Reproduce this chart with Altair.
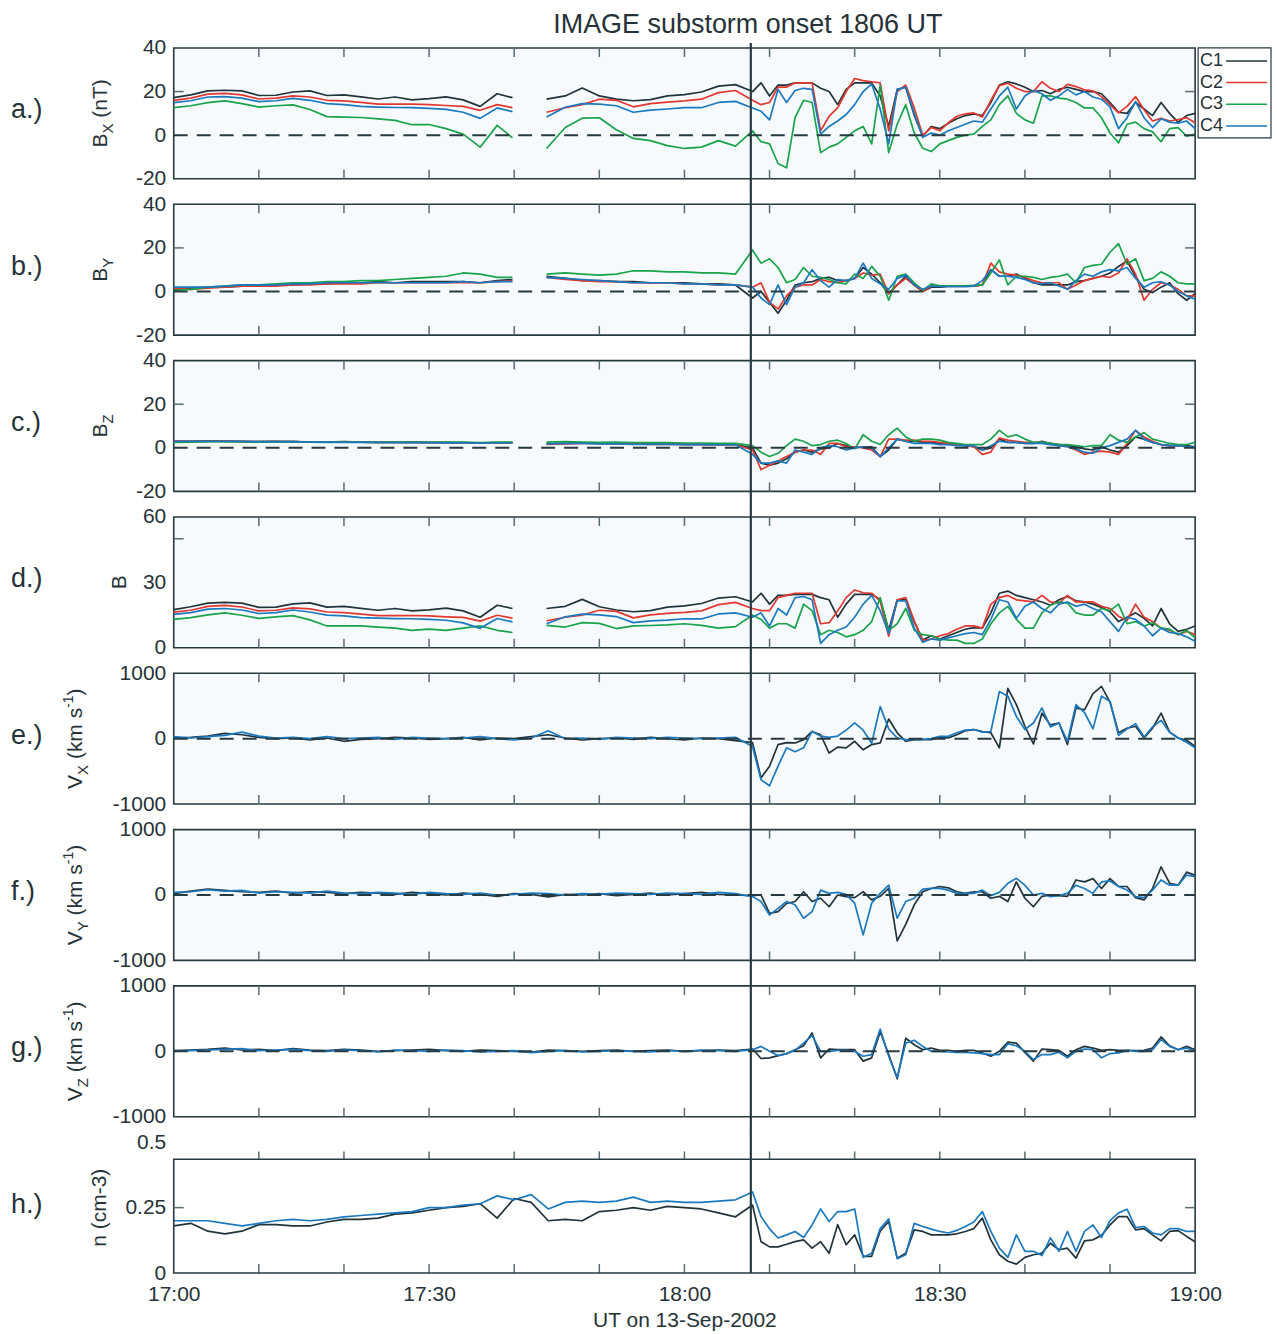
import altair as alt
import pandas as pd

# ---------------------------------------------------------------- style
FONT = "Liberation Sans"
INK = "#263a40"
TICK = "#5b6b70"
TEXT = "#263238"
PANEL_BG = "#f6fafc"
NAMES = ["C1", "C2", "C3", "C4"]
COLORS = {"C1": "#22343b", "C2": "#e2382f", "C3": "#19a34a", "C4": "#1b79c0"}
W, H = 1023, 131
SPACING = 25.57

# ---------------------------------------------------------------- time axes (minutes after 17:00 UT)
T_B_PRE1 = [0, 2, 4, 6, 8, 10, 12, 14, 16, 18, 20, 22, 24, 26, 28, 30, 32, 34, 36, 38, 39.8]
T_B_PRE2 = [43.8, 46, 48, 50, 52, 54, 56, 58, 60, 62, 64, 66]
T_POST = list(range(68, 121))
T_V_PRE = list(range(0, 67, 2))
T_B = T_B_PRE1 + T_B_PRE2 + T_POST
T_V = T_V_PRE + T_POST
DATA_GAP = 41.0          # FGM data gap between 17:39.8 and 17:43.8
ONSET = 67.8             # IMAGE substorm onset marker
X_TICKS = [10, 20, 30, 40, 50, 60, 70, 80, 90, 100, 110]
X_LABEL_POS = [0, 30, 60, 90, 120]
X_LABELS = ["17:00", "17:30", "18:00", "18:30", "19:00"]

# ---------------------------------------------------------------- B_X (nT)
BX_C1 = [17.2, 18.5, 20.3, 20.6, 20.3, 18.2, 18.3, 19.8, 20.3, 18.2, 18.5, 17.6, 16.6, 17.5, 16.2, 16.8, 17.6, 16.2, 13.2, 19.0, 17.2,
         16.5, 18.0, 21.6, 18.0, 16.5, 15.8, 16.3, 18.0, 18.6, 19.8, 22.5, 23.2,
         20, 24, 18, 23, 23, 24, 24, 24, 21.5, 20,
         14, 21, 24, 24, 24, 18, 4, 21, 22, 9,
         -0.5, 4, 3, 5.5, 7.5, 9, 9.8, 9, 15, 23,
         24.5, 23.5, 22, 20, 20.5, 19, 21, 22, 21, 20,
         20, 19, 15, 10.5, 10, 15, 12, 9, 15, 10,
         6, 9, 10]
BX_C2 = [16.0, 17.0, 18.8, 19.2, 18.5, 16.6, 17.0, 18.0, 17.5, 16.0, 15.7, 15.0, 14.2, 14.2, 14.2, 14.0, 13.6, 13.2, 11.4, 14.0, 12.6,
         10.5, 12.6, 14.0, 16.5, 16.0, 13.0, 14.5, 15.2, 15.7, 16.5, 19.5, 20.5,
         16, 14, 15, 22, 22, 24, 24, 24, 2, 8.7,
         12.5, 20, 26, 25, 24.5, 24, 2, 20, 23, 12.5,
         0, 3.5, 2, 5.7, 8.7, 9.8, 10.2, 8.3, 16, 22.7,
         23.8, 21.5, 20, 20, 24.5, 21.5, 20, 23.3, 22.3, 20.8,
         20.3, 17.7, 14, 10.2, 13.2, 17.7, 11.7, 6.5, 7.7, 6.5,
         7.2, 8, 5.7]
BX_C3 = [12.6, 13.5, 14.9, 15.7, 14.5, 12.9, 13.5, 13.9, 11.8, 8.5, 8.3, 8.1, 7.5, 6.8, 4.8, 4.9, 3.0, 0.5, -5.5, 4.5, -1.2,
         -6.1, 3.5, 7.8, 8.0, 2.5, -1.5, -2.5, -4.8, -6.1, -5.5, -2.5, -5.0,
         2, -3, -4, -13, -15, 8, 16, 15, -8, -5.5,
         -4, -1, 2, 4, -4, 23, -8, 5, 14, 1,
         -6, -7.5, -4, -2.5, -1, 0, 0.5, 4, 7, 14,
         18, 10, 7, 5.5, 18, 18, 17, 16.5, 15, 12.5,
         12.5, 8, 1, -3.5, 5, 6, 3, 1.5, -3, 3,
         3.5, -0.5, 0.5]
BX_C4 = [14.9, 15.8, 17.5, 17.7, 17.0, 15.4, 15.8, 16.9, 16.0, 14.5, 14.0, 13.2, 12.9, 12.7, 12.6, 12.3, 11.8, 10.5, 7.7, 12.5, 10.8,
         8.3, 12.8, 14.5, 14.2, 13.5, 10.5, 11.5, 12.0, 12.6, 12.6, 15.0, 15.5,
         12.5, 11, 7, 21, 15, 20.5, 21.5, 21, 0.5, 4,
         6.5, 9.5, 14, 20, 23.5, 12, -4, 21, 22, 10,
         -1, 1, 0, 2, 3.5, 5, 6.5, 6, 12, 18,
         22, 12, 18, 20.5, 19, 16, 18, 21, 18.5, 20,
         17.5, 16.5, 13, 3, 8, 15.5, 8, 3.5, 7.5, 6,
         5.5, 6.5, 3]

# ---------------------------------------------------------------- B_Y (nT)
BY_C1 = [1.0, 1.5, 2.0, 2.0, 2.5, 2.5, 3.0, 3.0, 3.5, 3.5, 4.0, 4.0, 4.5, 4.0, 4.5, 4.5, 4.5, 4.5, 4.0, 5.0, 5.5,
         7.0, 6.0, 5.0, 5.0, 4.5, 4.5, 4.0, 4.0, 4.0, 3.5, 3.5, 3.0,
         -3, 0, -5, -10, -4, 3, 4, 4.5, 6, 6.5,
         5, 5, 6, 11, 8, 4, -1, 3, 7, 3,
         0, 2, 2, 2.3, 2.3, 2.3, 2.5, 3, 10, 7,
         7, 8, 6, 4, 3, 3, 3, 3, 4.5, 5,
         6, 7, 8.5, 11.5, 14, 7, 1, -0.5, 2, 4,
         -1, -4, -1]
BY_C2 = [1.5, 1.0, 1.5, 2.0, 2.5, 2.5, 2.5, 3.0, 3.0, 3.5, 3.5, 3.5, 4.0, 4.0, 4.0, 4.0, 4.0, 4.0, 4.0, 4.5, 5.0,
         6.5, 5.5, 5.0, 4.5, 4.5, 4.0, 4.0, 4.0, 3.5, 3.5, 3.0, 3.0,
         2, 4, -5, -8, -2, 2, 3, 3, 5.5, 4.5,
         4, 5, 6, 8.5, 7.5, 8, -1, 3, 6, 3,
         0, 2.5, 2.5, 2.5, 2.5, 2.5, 2.5, 3, 13, 9,
         8, 7.5, 6.5, 5, 4, 4, 4, 1, 3, 5,
         6, 7, 6.5, 8.5, 15, 8, -4, 1, 4, 3,
         1, -2, -2]
BY_C3 = [0.5, 1.0, 2.0, 2.5, 3.0, 3.0, 3.5, 4.0, 4.0, 4.5, 4.5, 5.0, 5.0, 5.5, 6.0, 6.5, 7.0, 8.5, 8.0, 6.5, 6.5,
         8.0, 8.5, 8.0, 7.5, 8.0, 9.5, 9.5, 9.0, 9.0, 8.5, 8.5, 8.0,
         19, 13, 15, 11, 4, 5.5, 11, 7, 6.5, 5.5,
         4, 3.5, 8, 6, 11.5, 7, -4, 7, 8, 4,
         0.5, 3.5, 2.6, 2.6, 2.6, 2.6, 2.8, 3, 8.5, 14.5,
         3, 7, 7, 6.5, 5.5, 6.5, 7, 8, 4, 11,
         12, 12.5, 18, 22, 12.5, 15, 5, 6, 9, 7,
         4, 3.5, 3.5]
BY_C4 = [2.0, 2.0, 2.0, 2.5, 3.0, 3.0, 3.0, 3.5, 3.5, 4.0, 4.0, 4.0, 4.0, 4.0, 4.0, 4.0, 4.0, 4.5, 4.0, 4.5, 4.5,
         6.5, 6.0, 5.5, 5.0, 4.5, 4.0, 4.0, 4.0, 3.5, 3.5, 3.0, 3.0,
         2, -3, -6, 3, -6, 2, 4, 10, 5, 2,
         5.5, 5, 6, 13, 6, 3.5, 1, 6, 7.5, 3,
         1, 2.5, 2.3, 2.3, 2.3, 2.3, 2.5, 5, 10, 7,
         7, 6.5, 5.5, 4, 3.5, 4, 2.5, 1, 5, 8,
         7, 9, 10, 9.5, 11, 6, 2, 4, 4.5, 3,
         0, -2, -3.5]

# ---------------------------------------------------------------- B_Z (nT)
BZ_C1 = [3.0, 3.0, 3.2, 3.0, 2.8, 2.8, 3.0, 2.8, 2.6, 2.6, 2.8, 2.6, 2.5, 2.5, 2.6, 2.5, 2.4, 2.4, 2.2, 2.4, 2.4,
         1.8, 2.0, 2.2, 2.0, 2.0, 1.8, 1.8, 1.8, 1.6, 1.6, 1.5, 1.4,
         0, -7, -8, -7, -5, -2, -1, -2, -0.5, 0,
         2, 1, 0, 0.5, 0.5, -4, -1, 4, 3, 3,
         2.5, 2.5, 2, 2, 1.5, 1, 0.5, -1, 0, 4,
         2.5, 2.5, 2, 2, 3, 2, 1.5, 1, 0.5, -0.5,
         -1, 0.5, -1, -2, 1, 5, 4, 2.5, 1.5, 1,
         1, 1, 0.5]
BZ_C2 = [3.2, 3.0, 3.0, 3.2, 3.0, 2.8, 2.8, 2.8, 2.7, 2.6, 2.6, 2.6, 2.5, 2.6, 2.5, 2.4, 2.4, 2.3, 2.3, 2.2, 2.2,
         1.6, 1.8, 2.0, 2.0, 1.8, 1.8, 1.6, 1.6, 1.6, 1.5, 1.4, 1.4,
         -1, -10, -8, -6, -4, -2, -1, -1, -3, 2,
         2, 0.5, 0.5, 0, -1, -4, 4, 4, 3.5, 3.5,
         3, 3, 2.5, 2, 1.5, 1, 0.5, -3, -2, 4.5,
         3.5, 3, 2.5, 2.5, 2.5, 2, 1, 0.5, -1, -3,
         -2, -1.5, -2, -3, 2, 8, 5, 3, 1.5, 1,
         1, 0.5, 0.5]
BZ_C3 = [2.5, 2.6, 2.8, 2.8, 2.8, 2.6, 2.6, 2.8, 2.6, 2.5, 2.6, 2.6, 2.5, 2.6, 2.6, 2.5, 2.6, 2.6, 2.4, 2.6, 2.6,
         2.6, 2.8, 2.6, 2.5, 2.6, 2.4, 2.4, 2.4, 2.2, 2.2, 2.0, 2.0,
         1, -2, -4, -2.5, 1, 4, 3, 1, 1.5, 3,
         3.5, 2, -0.5, 6, 3, 1.5, 6, 9, 5, 3,
         4, 4, 3.5, 2.5, 2, 1.5, 1.5, 1.5, 4, 8,
         5, 6, 4, 2.5, 2.5, 2, 1.5, 1.5, 1, 0.5,
         1, 1, 6, 3.5, 2.5, 5, 7, 4, 3, 2,
         1.5, 1.5, 2.5]
BZ_C4 = [3.0, 3.0, 3.0, 3.0, 3.0, 2.8, 2.8, 2.8, 2.6, 2.6, 2.5, 2.5, 2.5, 2.4, 2.4, 2.4, 2.3, 2.3, 2.2, 2.2, 2.2,
         1.8, 2.0, 2.0, 1.8, 1.8, 1.6, 1.6, 1.6, 1.5, 1.5, 1.4, 1.4,
         -3, -7, -7, -6, -7, -1, -2, -3, 0, 1,
         0.5, -1, 0, 0.5, 0, -4, 0, 4, 3, 2,
         2, 2, 1.5, 1.5, 1, 1, 1, -1, 1, 3,
         2.5, 2.5, 2, 2, 2, 1.5, 1, 0.5, -0.5, -2,
         -2.5, 0, 1, 2.5, 4, 8, 4, 2.5, 1.5, 1,
         1, 0.5, 0.5]

# ---------------------------------------------------------------- |B| (nT)
BT_C1 = [17.5, 18.8, 20.5, 20.8, 20.5, 18.5, 18.6, 20.1, 20.6, 18.6, 19.0, 18.1, 17.2, 18.0, 16.9, 17.4, 18.2, 16.9, 14.0, 19.5, 18.0,
         18.0, 19.0, 22.2, 18.8, 17.3, 16.5, 17.0, 18.6, 19.2, 20.3, 22.8, 23.4,
         21, 25, 20, 24, 24, 24.5, 24.5, 24.5, 23, 22,
         14, 20, 24.5, 24.5, 24.5, 22, 8, 22, 22, 12,
         3.5, 5.5, 4, 5.5, 7, 8.5, 9.2, 9, 16, 25,
         26, 24, 23, 22, 21, 19.5, 22, 23.5, 21.5, 21,
         20, 18.5, 16.5, 12, 14, 16, 13.5, 10, 18, 11,
         7.5, 8.5, 10]
BT_C2 = [16.3, 17.2, 19.0, 19.4, 18.7, 16.9, 17.2, 18.3, 17.8, 16.4, 16.1, 15.4, 14.7, 14.7, 14.8, 14.6, 14.2, 13.9, 12.2, 14.9, 13.6,
         12.4, 14.0, 15.0, 17.2, 16.7, 13.7, 15.1, 15.8, 16.2, 16.9, 19.8, 20.8,
         18, 17, 17, 23, 24, 25, 25, 25, 11, 11.5,
         16.8, 23, 26.5, 25.2, 25, 21.4, 5.3, 22, 23, 12.2,
         3.4, 4, 5.5, 6.5, 8.5, 10, 10, 9, 20, 23,
         24, 22, 21.5, 21, 24, 21, 20.5, 24, 21, 21,
         21, 19, 18, 14.5, 12.5, 20, 14, 12, 9, 8,
         6, 7.5, 6]
BT_C3 = [13.0, 13.8, 15.1, 16.0, 14.9, 13.5, 14.2, 14.7, 12.8, 10.0, 10.0, 10.0, 9.5, 9.0, 8.0, 8.5, 8.0, 9.0, 10.0, 8.0, 7.0,
         10.3, 9.5, 11.5, 11.2, 8.8, 10.0, 10.2, 10.5, 11.0, 10.3, 9.0, 9.7,
         15, 13, 9, 11, 11, 9, 20, 17, 6, 8,
         7, 5, 6, 8, 12, 23, 8, 11, 18, 8,
         6, 5.5, 4, 3.5, 3.5, 2, 2, 4, 11, 16,
         19, 13, 9, 9, 16, 19.5, 21, 20.5, 16, 15,
         15, 18, 17, 20, 11, 12, 10, 11.5, 9, 8.5,
         6, 8, 4.5]
BT_C4 = [15.3, 16.1, 17.7, 18.0, 17.3, 15.7, 16.1, 17.3, 16.4, 15.0, 14.6, 13.8, 13.6, 13.4, 13.3, 13.0, 12.6, 11.4, 8.9, 13.4, 11.9,
         11.0, 14.2, 15.4, 15.1, 14.3, 11.5, 12.3, 12.7, 13.3, 13.2, 15.5, 16.0,
         14, 16, 10, 18, 15, 23, 23.5, 22, 2, 6,
         8, 9.5, 14, 20, 24, 17, 6.5, 21.5, 21.5, 9,
         2.5, 4, 3.5, 4.5, 5.5, 6.5, 7, 6, 13, 22,
         21, 13.5, 19, 21, 18, 16, 20, 21, 19, 20,
         18, 16.5, 12, 7.5, 14, 13, 10, 5.5, 9, 7,
         6.5, 5, 3]

# ---------------------------------------------------------------- ion velocity (km/s), C1 and C4
VX_C1 = [10, 20, 40, 80, 60, 20, 0, 10, -20, 10, -40, -10, 0, 20, 10, -10, 0, 20, -20, 10,
         0, 30, 60, 10, -20, 0, 10, -10, 20, 0, -20, 10, 0, -30,
         -60, -600, -420, -90, -60, -65, -15, 110, 60, -220,
         -130, -140, -40, -170, -90, -65, 300, 90, -40, -15,
         -15, -15, 25, 10, 60, 120, 140, 110, 90, -140,
         770, 520, 190, -80, 390, 210, 240, -90, 470, 440,
         690, 800, 560, 90, 160, 190, 10, 160, 390, 100,
         10, -25, -120]
VX_C4 = [30, 10, 30, 50, 100, 40, 10, 20, 0, 30, 0, 10, 20, -10, 20, 10, 0, 10, 30, 0,
         -20, 10, 120, 0, 10, -10, 20, 10, 0, 20, 10, 0, 10, 20,
         -120, -630, -720, -420, -140, -200, -140, 110, 40, 20,
         40, 130, 240, 130, -70, 490, 150, 10, -15, -15,
         -10, 0, 35, 35, 90, 130, 140, 100, 110, 720,
         650, 340, 140, 240, 470, 180, 240, -40, 520, 400,
         150, 650, 570, 50, 150, 230, 25, 180, 280, 100,
         10, -55, -140]
VY_C1 = [20, 60, 90, 70, 50, 40, 60, 30, 50, 40, 20, 40, 30, 10, 40, 20, 0, 30, 10, -20,
         20, 10, -30, 10, 0, 20, -10, 10, 30, 0, 20, 40, 10, 0,
         -10, 0, -280, -255, -130, -100, 50, -100, -50, -180,
         0, -25, -40, 50, -75, -20, 100, -700, -450, -150,
         50, 100, 130, 110, 50, 25, 50, 50, -50, -20,
         -100, 200, -50, -180, -20, 0, -10, -20, 230, 200,
         250, 100, 250, 130, 130, -40, -75, 100, 430, 180,
         150, 350, 300]
VY_C4 = [40, 50, 80, 60, 70, 30, 50, 40, 30, 60, 30, 20, 40, 30, 10, 40, 20, 10, 30, 0,
         10, 30, 20, 0, 20, 10, 30, 20, 10, 30, 20, 10, 40, 20,
         -25, -100, -305, -205, -100, -150, -355, -255, 75, 25,
         40, 10, -125, -610, -125, 25, 150, -355, -100, -50,
         90, 100, 100, 75, 25, 25, 25, 75, -10, 40,
         180, 255, 150, 0, 25, -25, -10, 25, 150, 100,
         25, 200, 215, 130, 75, -25, -40, 75, 230, 150,
         150, 305, 280]
VZ_C1 = [10, 20, 30, 50, 20, 30, 10, 40, 20, 10, 30, 20, 0, 10, 20, 30, 10, 0, 20, 10,
         0, -10, 20, 10, 0, 10, 20, 0, 10, 20, 0, 10, 20, 10,
         35, -110, -100, -65, -35, 25, 85, 280, -100, 35,
         25, 25, 25, -150, -100, 300, -50, -420, 200, 100,
         25, 50, 15, 15, 0, 15, 15, -25, -75, 0,
         140, 125, -15, -150, 35, 25, 15, -75, 25, 75,
         50, 15, 25, 15, 15, 10, 15, 50, 220, 85,
         25, 75, 25]
VZ_C4 = [0, 10, 20, 30, 40, 10, 20, 30, 10, 0, 20, 10, -10, 20, 10, 0, 20, 10, -10, 0,
         10, -20, 0, 10, -10, 0, 10, 0, -10, 10, 0, 20, 10, 0,
         25, 75, 0, -65, -35, 15, 125, 240, 0, 0,
         15, 15, 0, -75, -50, 340, -75, -400, 125, 170,
         75, 0, 0, -10, -15, -15, -25, -35, -50, -50,
         115, 85, 0, -125, -50, -50, -15, -100, 0, 35,
         25, -100, -35, -25, 15, 0, 0, 25, 180, 75,
         25, 50, 0]

# ---------------------------------------------------------------- ion density (cm^-3), C1 and C4
N_C1 = [0.18, 0.19, 0.16, 0.15, 0.16, 0.185, 0.185, 0.18, 0.18, 0.195, 0.205, 0.205, 0.21, 0.225, 0.23, 0.24, 0.25,
        0.255, 0.265, 0.21, 0.285, 0.27, 0.2, 0.205, 0.2, 0.235, 0.24, 0.25, 0.24, 0.255, 0.25, 0.245, 0.23, 0.215,
        0.26, 0.12, 0.10, 0.10, 0.11, 0.12, 0.127, 0.095, 0.12, 0.076,
        0.185, 0.108, 0.146, 0.064, 0.064, 0.16, 0.197, 0.057, 0.076, 0.165,
        0.159, 0.146, 0.146, 0.146, 0.15, 0.159, 0.17, 0.21, 0.127, 0.07,
        0.045, 0.034, 0.06, 0.07, 0.076, 0.114, 0.089, 0.095, 0.057, 0.123,
        0.127, 0.144, 0.184, 0.216, 0.216, 0.165, 0.17, 0.146, 0.123, 0.159,
        0.162, 0.14, 0.12]
N_C4 = [0.2, 0.2, 0.2, 0.19, 0.18, 0.19, 0.2, 0.205, 0.2, 0.205, 0.215, 0.22, 0.225, 0.23, 0.235, 0.25, 0.25,
        0.26, 0.265, 0.295, 0.28, 0.3, 0.245, 0.27, 0.275, 0.27, 0.275, 0.29, 0.27, 0.275, 0.27, 0.27, 0.275, 0.28,
        0.31, 0.216, 0.169, 0.134, 0.146, 0.159, 0.136, 0.184, 0.245, 0.197,
        0.235, 0.235, 0.245, 0.06, 0.076, 0.17, 0.207, 0.055, 0.07, 0.19,
        0.178, 0.168, 0.159, 0.153, 0.163, 0.178, 0.195, 0.235, 0.159, 0.095,
        0.06, 0.146, 0.083, 0.083, 0.067, 0.134, 0.083, 0.159, 0.083, 0.159,
        0.184, 0.136, 0.2, 0.23, 0.244, 0.174, 0.178, 0.153, 0.146, 0.17,
        0.17, 0.159, 0.159]

# ---------------------------------------------------------------- helpers
ARIAL = {" ": 278, "(": 333, ")": 333, "-": 333, "B": 667, "V": 667, "X": 667, "Y": 667,
         "Z": 611, "T": 611, "n": 556, "k": 500, "m": 833, "s": 500, "c": 500}


def text_width(s, size):
    return sum(ARIAL.get(ch, 556) for ch in s) * size / 1000.0


def series_frame(times, series, gap=None):
    rows = []
    for name, vals in series:
        if len(vals) != len(times):
            raise ValueError(f"{name}: {len(vals)} values for {len(times)} times")
        for t, v in zip(times, vals):
            seg = 1 if (gap is not None and t < gap) else 2
            rows.append({"t": t, "v": v, "sc": name, "seg": seg})
    return pd.DataFrame(rows)


def one(**kw):
    return pd.DataFrame({k: [v] for k, v in kw.items()})


def label_layer(text, x, y, size, align="left", angle=0, baseline="middle"):
    mark = dict(align=align, baseline=baseline, fontSize=size, font=FONT, color=TEXT)
    if angle:
        mark["angle"] = angle
    return alt.Chart(one(s=text)).mark_text(**mark).encode(
        x=alt.value(x), y=alt.value(y), text="s:N")


def y_title(parts, x_base, y_center):
    """Rotated axis title built from pieces so that sub/superscripts can be drawn."""
    total = 0.0
    for s, size, dx in parts:
        total += text_width(s, size)
    y = y_center + total / 2.0
    layers = []
    for s, size, dx in parts:
        lead = len(s) - len(s.lstrip(" "))
        y -= lead * 278 * size / 1000.0
        s = s.lstrip(" ")
        layers.append(label_layer(s, x_base + dx, y, size, angle=270, baseline="alphabetic"))
        y -= text_width(s, size)
    return layers


def panel(df, names, ydom, yvals, letter, title_parts, title_x, bg=PANEL_BG,
          zero=True, yticks=(), frame_top=None, xaxis=False, legend=False, top=False):
    label_expr = "[" + ",".join(f"'{s}'" for s in X_LABELS) + "][round(datum.value/30)]"
    if xaxis:
        x_axis = alt.Axis(values=X_LABEL_POS, labelExpr=label_expr, ticks=False, domain=False,
                          grid=False, labelFlush=False, labelOverlap=False, labelFontSize=21,
                          labelFont=FONT, labelColor=TEXT, labelPadding=10,
                          title="UT on 13-Sep-2002", titleFont=FONT, titleFontSize=21,
                          titleFontWeight="normal", titleColor=TEXT, titlePadding=6)
    else:
        x_axis = None
    xenc = alt.X("t:Q", scale=alt.Scale(domain=[0, 120], nice=False, zero=False), axis=x_axis)
    yenc = alt.Y("v:Q", scale=alt.Scale(domain=ydom, nice=False, zero=False),
                 axis=alt.Axis(values=yvals, labelExpr="'' + datum.value", ticks=False,
                               domain=False, grid=False, labelFontSize=21, labelFont=FONT,
                               labelColor=TEXT, labelPadding=8, labelOverlap=False, title=None))

    layers = []
    lines = alt.Chart(df).mark_line(strokeWidth=1.7, strokeJoin="round").encode(
        x=xenc, y=yenc,
        color=alt.Color("sc:N", scale=alt.Scale(domain=names, range=[COLORS[n] for n in names]),
                        legend=None),
        detail="seg:N")
    layers.append(lines)

    if zero:
        layers.append(alt.Chart(one(v=0)).mark_rule(
            color=INK, strokeWidth=2, strokeDash=[14, 9]).encode(
            y=yenc, x=alt.value(0), x2=alt.value(W)))

    # inward minor ticks on the time axis
    ticks = pd.DataFrame({"t": X_TICKS})
    layers.append(alt.Chart(ticks).mark_rule(color=TICK, strokeWidth=1.5).encode(
        x=xenc, y=alt.value(H - 9), y2=alt.value(H)))
    if frame_top is None:
        layers.append(alt.Chart(ticks).mark_rule(color=TICK, strokeWidth=1.5).encode(
            x=xenc, y=alt.value(0), y2=alt.value(9)))
    else:
        tk = pd.DataFrame({"t": X_TICKS, "v": [frame_top] * len(X_TICKS),
                           "v2": [frame_top + 0.03] * len(X_TICKS)})
        layers.append(alt.Chart(tk).mark_rule(color=TICK, strokeWidth=1.5).encode(
            x=xenc, y=yenc, y2="v2:Q"))
        layers.append(alt.Chart(one(v=0, v2=frame_top)).mark_rect(
            fillOpacity=0, stroke=INK, strokeWidth=1.6).encode(
            x=alt.value(0), x2=alt.value(W), y=yenc, y2="v2:Q"))

    if yticks:
        yt = pd.DataFrame({"v": list(yticks)})
        layers.append(alt.Chart(yt).mark_rule(color=TICK, strokeWidth=1.5).encode(
            y=yenc, x=alt.value(0), x2=alt.value(10)))
        layers.append(alt.Chart(yt).mark_rule(color=TICK, strokeWidth=1.5).encode(
            y=yenc, x=alt.value(W - 10), x2=alt.value(W)))

    # onset marker, extended through the gaps between panels
    y_from = -5 if top else -13
    y_to = H if xaxis else H + 13
    layers.append(alt.Chart(one(t=ONSET)).mark_rule(color=INK, strokeWidth=2.2).encode(
        x=xenc, y=alt.value(y_from), y2=alt.value(y_to)))

    layers.append(label_layer(letter, -163, H / 2 - 3, 27))
    layers.extend(y_title(title_parts, title_x, H / 2))

    if top:
        layers.append(label_layer("IMAGE substorm onset 1806 UT", 575, -23, 27, align="center"))
    if legend:
        layers.append(alt.Chart(one(a=0)).mark_rect(
            fill="white", stroke=INK, strokeWidth=1.2).encode(
            x=alt.value(W + 3), x2=alt.value(W + 76), y=alt.value(0), y2=alt.value(90)))
        for i, n in enumerate(NAMES):
            yy = 13 + 21.7 * i
            layers.append(label_layer(n, W + 5, yy, 18))
            layers.append(alt.Chart(one(a=0)).mark_rule(color=COLORS[n], strokeWidth=1.5).encode(
                x=alt.value(W + 31), x2=alt.value(W + 72), y=alt.value(yy)))

    stroke = "transparent" if frame_top is not None else INK
    return alt.layer(*layers).properties(
        width=W, height=H,
        view=alt.ViewBackground(fill=bg, stroke=stroke, strokeWidth=1.6))


# ---------------------------------------------------------------- panels
four = lambda a, b, c, d: [("C1", a), ("C2", b), ("C3", c), ("C4", d)]
two = lambda a, d: [("C1", a), ("C4", d)]

V_SUB = 6
p_a = panel(series_frame(T_B, four(BX_C1, BX_C2, BX_C3, BX_C4), DATA_GAP), NAMES,
            [-20, 40], [-20, 0, 20, 40], "a.)",
            [("B", 21, 0), ("X", 15, V_SUB), (" (nT)", 21, 0)], -67,
            yticks=[20], legend=True, top=True)
p_b = panel(series_frame(T_B, four(BY_C1, BY_C2, BY_C3, BY_C4), DATA_GAP), NAMES,
            [-20, 40], [-20, 0, 20, 40], "b.)",
            [("B", 21, 0), ("Y", 15, V_SUB)], -67, yticks=[20])
p_c = panel(series_frame(T_B, four(BZ_C1, BZ_C2, BZ_C3, BZ_C4), DATA_GAP), NAMES,
            [-20, 40], [-20, 0, 20, 40], "c.)",
            [("B", 21, 0), ("Z", 15, V_SUB)], -67, yticks=[20])
p_d = panel(series_frame(T_B, four(BT_C1, BT_C2, BT_C3, BT_C4), DATA_GAP), NAMES,
            [0, 60], [0, 30, 60], "d.)",
            [("B", 21, 0)], -48, zero=False, yticks=[50])
vel_title = lambda c: [("V", 21, 0), (c, 15, V_SUB), (" (km s", 21, 0), ("-1", 14, -9), (")", 21, 0)]
p_e = panel(series_frame(T_V, two(VX_C1, VX_C4)), ["C1", "C4"],
            [-1000, 1000], [-1000, 0, 1000], "e.)", vel_title("X"), -92)
p_f = panel(series_frame(T_V, two(VY_C1, VY_C4)), ["C1", "C4"],
            [-1000, 1000], [-1000, 0, 1000], "f.)", vel_title("Y"), -92)
p_g = panel(series_frame(T_V, two(VZ_C1, VZ_C4)), ["C1", "C4"],
            [-1000, 1000], [-1000, 0, 1000], "g.)", vel_title("Z"), -92, bg="white")
p_h = panel(series_frame(T_V, two(N_C1, N_C4)), ["C1", "C4"],
            [0, 0.5], [0, 0.25, 0.5], "h.)", [("n (cm-3)", 21, 0)], -68,
            bg="white", zero=False, yticks=[0.25], frame_top=0.435, xaxis=True)

# "flush" bounds: panels are stacked by their plot areas only, so the
# onset marker and axis labels may overhang into the gaps between them
chart = alt.vconcat(p_a, p_b, p_c, p_d, p_e, p_f, p_g, p_h,
                    spacing=SPACING, bounds="flush").properties(
    padding={"left": 10, "top": 9, "right": 4, "bottom": 4},
    background="white")

chart.save("out.html", embed_options={"renderer": "svg", "actions": False})
